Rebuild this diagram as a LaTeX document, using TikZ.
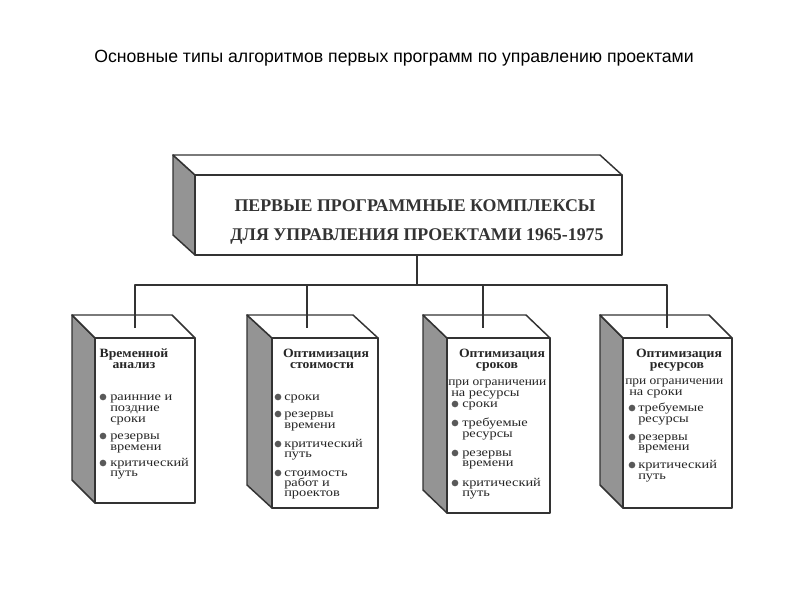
\documentclass[tikz,border=0pt]{standalone}
\usepackage{fontspec}
\usepackage{graphicx}
\setmainfont{Liberation Serif}
\newfontfamily\headfont{Liberation Sans}
\tikzset{
  sideface/.style={draw=black!80, line width=1.1pt, fill=black!42},
  topface/.style={draw=black!80, line width=1.1pt, fill=white},
  frontface/.style={draw=black!80, line width=1.1pt, fill=white},
  conn/.style={draw=black!80, line width=1.1pt},
  bul/.style={fill=black!65},
  itemtxt/.style={inner sep=0pt, text=black!85, font=\fontsize{9}{9}\selectfont},
  headtxt/.style={inner sep=0pt, text=black!85, font=\bfseries\fontsize{9.5}{9.5}\selectfont},
  maintxt/.style={inner sep=0pt, text=black!80, font=\bfseries\fontsize{13.4}{13.4}\selectfont},
}
% cuboid: front x1,y1,x2,y2 ; depth dx,dy
\newcommand\cuboid[6]{%
  \filldraw[sideface] (#1,#2) -- ++(-#5,-#6) -- ++(0,{#4-#2}) -- (#1,#4) -- cycle;
  \filldraw[topface] (#1,#2) -- ++(-#5,-#6) -- ++({#3-#1},0) -- (#3,#2) -- cycle;
  \filldraw[frontface] (#1,#2) rectangle (#3,#4);
}
\newcommand\lineL[4]{\node[itemtxt, anchor=base west] (#1) at (#2,#3) {\scalebox{1.2}[1]{#4}};}
\newcommand\lineP[4]{\node[itemtxt, anchor=base west] (#1) at (#2,#3) {\scalebox{1.12}[1]{#4}};}
\newcommand\lineH[4]{\node[headtxt, anchor=base] (#1) at (#2,#3) {\scalebox{1.08}[1]{#4}};}
\newcommand\dotAt[2]{\fill[bul] (#1,#2) circle (2.5pt);}
\begin{document}
\begin{tikzpicture}[x=0.75pt, y=-0.75pt, line join=round]
\useasboundingbox (0,0) rectangle (800,600);
\fill[white] (0,0) rectangle (800,600);

\node[inner sep=0pt, anchor=base, font=\headfont\fontsize{13.25}{16}\selectfont] (title) at (394,62)
  {Основные типы алгоритмов первых программ по управлению проектами};

% main box
\cuboid{195}{175}{622}{255}{22}{20}
\node[maintxt, anchor=base] (m1) at (415,211) {ПЕРВЫЕ ПРОГРАММНЫЕ КОМПЛЕКСЫ};
\node[maintxt, anchor=base] (m2) at (417,240) {ДЛЯ УПРАВЛЕНИЯ ПРОЕКТАМИ 1965-1975};

% four boxes
\cuboid{95}{338}{195}{503}{23}{23}
\cuboid{272}{338}{378}{508}{25}{23}
\cuboid{447}{338}{550}{513}{24}{23}
\cuboid{623}{338}{732}{508}{23}{23}

% connectors
\coordinate (mb) at (417,255);
\coordinate (bj) at (417,285);
\coordinate (bl) at (135,285);
\coordinate (br) at (667,285);
\coordinate (j2) at (307,285);
\coordinate (j3) at (483,285);
\coordinate (c1) at (135,328);
\coordinate (c2) at (307,328);
\coordinate (c3) at (483,328);
\coordinate (c4) at (667,328);
\draw[conn] (mb) -- (bj);
\draw[conn] (c1) -- (bl) -- (br) -- (c4);
\draw[conn] (j2) -- (c2);
\draw[conn] (j3) -- (c3);

% box 1
\lineH{h1a}{134}{357}{Временной}
\lineH{h1b}{134}{368}{анализ}
\dotAt{103}{397}\lineL{a1}{110}{400}{раинние и}
\lineL{a2}{110}{411}{поздние}
\lineL{a3}{110}{422}{сроки}
\dotAt{103}{436}\lineL{a4}{110}{439}{резервы}
\lineL{a5}{110}{450}{времени}
\dotAt{103}{463}\lineL{a6}{110}{466}{критический}
\lineL{a7}{110}{476}{путь}

% box 2
\lineH{h2a}{326}{357}{Оптимизация}
\lineH{h2b}{322}{368}{стоимости}
\dotAt{278}{397}\lineL{b1}{284}{400}{сроки}
\dotAt{278}{414}\lineL{b2}{284}{417}{резервы}
\lineL{b3}{284}{428}{времени}
\dotAt{278}{444}\lineL{b4}{284}{447}{критический}
\lineL{b5}{284}{457}{путь}
\dotAt{278}{473}\lineL{b6}{284}{476}{стоимость}
\lineL{b7}{284}{486}{работ и}
\lineL{b8}{284}{496}{проектов}

% box 3
\lineH{h3a}{502}{357}{Оптимизация}
\lineH{h3b}{497}{368}{сроков}
\lineP{p3a}{448}{385}{при ограничении}
\lineL{p3b}{451}{396}{на ресурсы}
\dotAt{455}{404}\lineL{c3a}{462}{407}{сроки}
\dotAt{455}{423}\lineL{c3b}{462}{426}{требуемые}
\lineL{c3c}{462}{437}{ресурсы}
\dotAt{455}{453}\lineL{c3d}{462}{456}{резервы}
\lineL{c3e}{462}{466}{времени}
\dotAt{455}{483}\lineL{c3f}{462}{486}{критический}
\lineL{c3g}{462}{496}{путь}

% box 4
\lineH{h4a}{679}{357}{Оптимизация}
\lineH{h4b}{677}{368}{ресурсов}
\lineP{p4a}{625}{384}{при ограничении}
\lineL{p4b}{629}{395}{на сроки}
\dotAt{632}{408}\lineL{d1}{638}{411}{требуемые}
\lineL{d2}{638}{422}{ресурсы}
\dotAt{632}{437}\lineL{d3}{638}{440}{резервы}
\lineL{d4}{638}{450}{времени}
\dotAt{632}{465}\lineL{d5}{638}{468}{критический}
\lineL{d6}{638}{479}{путь}
\end{tikzpicture}
\end{document}
